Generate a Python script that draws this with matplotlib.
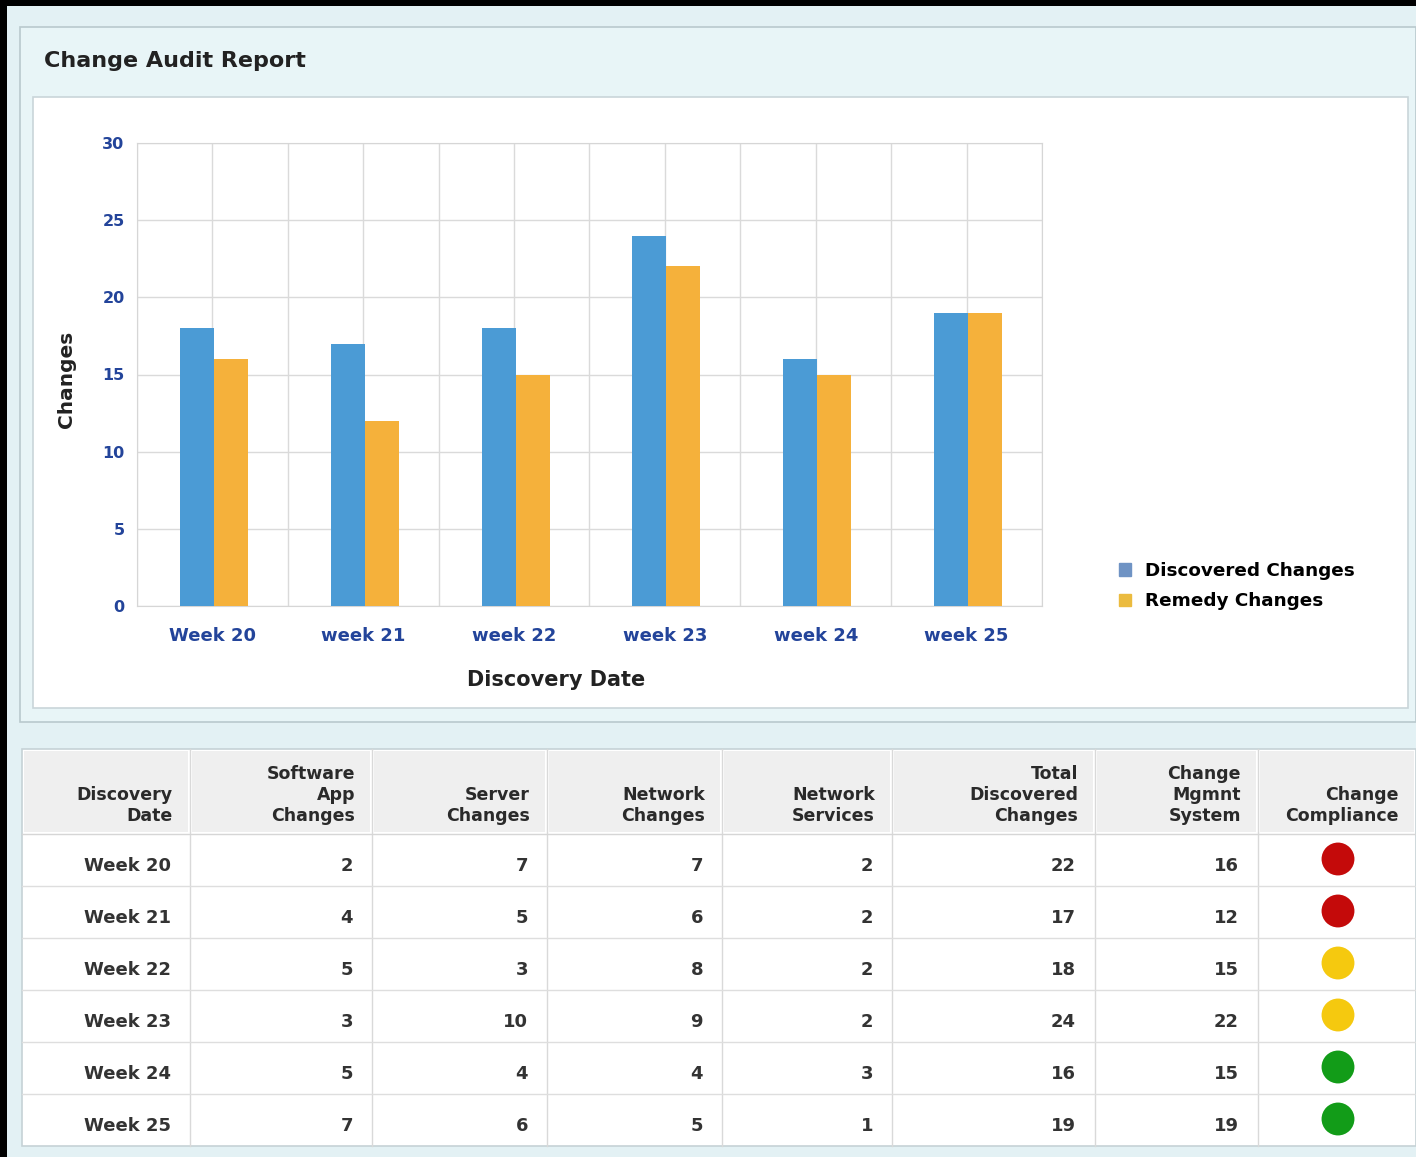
import numpy as np
import matplotlib.pyplot as plt
from matplotlib.patches import Rectangle, Patch

# chart data
week_ticks = ['Week 20', 'week 21', 'week 22', 'week 23', 'week 24', 'week 25']
discovered = [18, 17, 18, 24, 16, 19]
remedy = [16, 12, 15, 22, 15, 19]

# table data
weeks = ['Week 20', 'Week 21', 'Week 22', 'Week 23', 'Week 24', 'Week 25']
software_app = [2, 4, 5, 3, 5, 7]
server = [7, 5, 3, 10, 4, 6]
network_changes = [7, 6, 8, 9, 4, 5]
network_services = [2, 2, 2, 2, 3, 1]
total_discovered = [22, 17, 18, 24, 16, 19]
change_mgmt = [16, 12, 15, 22, 15, 19]
compliance = ['red', 'red', 'yellow', 'yellow', 'green', 'green']
headers = ['Discovery\nDate', 'Software\nApp\nChanges', 'Server\nChanges',
           'Network\nChanges', 'Network\nServices', 'Total\nDiscovered\nChanges',
           'Change\nMgmnt\nSystem', 'Change\nCompliance']

BLUE = '#4b9bd5'
ORANGE = '#f5b13b'
TICK = '#23449a'
light_colors = {'red': '#c40a0a', 'yellow': '#f5c90f', 'green': '#129c18'}

W, H = 1416, 1157
fig = plt.figure(figsize=(W / 100, H / 100), dpi=100, facecolor='black')

# page background in pixel coordinates
bg = fig.add_axes([0, 0, 1, 1])
bg.set_xlim(0, W)
bg.set_ylim(H, 0)
bg.axis('off')
bg.add_patch(Rectangle((7, 6), W - 7, H - 6, fc='#e3f1f4', ec='none'))
bg.add_patch(Rectangle((20, 27), W - 20, 695, fc='#e8f5f7', ec='#b9c9cd', lw=1.2))
bg.add_patch(Rectangle((33, 97), 1375, 611, fc='white', ec='#c9d5d9', lw=1.2))
bg.text(44, 61, 'Change Audit Report', fontsize=16, fontweight='bold',
        color='#222222', va='center', ha='left')

# bar chart
ax = fig.add_axes([137 / W, 1 - 606 / H, 905 / W, 463 / H])
x = np.arange(len(week_ticks))
bw = 0.225
ax.bar(x - bw / 2 + 0.01, discovered, bw, color=BLUE, zorder=3)
ax.bar(x + bw / 2 + 0.01, remedy, bw, color=ORANGE, zorder=3)
ax.set_xlim(-0.5, len(week_ticks) - 0.5)
ax.set_ylim(0, 30)
ax.set_yticks(range(0, 31, 5))
ax.set_xticks(x)
ax.set_xticks(np.arange(-0.5, len(week_ticks), 1.0), minor=True)
ax.set_xticklabels(week_ticks)
ax.tick_params(axis='both', which='both', length=0, labelcolor=TICK)
ax.tick_params(axis='x', pad=15, labelsize=13)
ax.tick_params(axis='y', pad=9, labelsize=11.5)
for lab in ax.get_xticklabels() + ax.get_yticklabels():
    lab.set_fontweight('bold')
ax.grid(True, which='both', axis='x', color='#dadada', lw=1, zorder=0)
ax.grid(True, axis='y', color='#dadada', lw=1, zorder=0)
for s in ax.spines.values():
    s.set_color('#d6d6d6')
ax.set_ylabel('Changes', fontsize=14.5, fontweight='bold', color='#222222')
ax.yaxis.set_label_coords(-61 / 905, 0.49)
ax.set_xlabel('Discovery Date', fontsize=15, fontweight='bold', color='#222222')
ax.xaxis.set_label_coords(0.463, -64 / 463)

fig.legend(handles=[Patch(color='#6f93c4'), Patch(color='#ebbb3f')],
           labels=['Discovered Changes', 'Remedy Changes'],
           loc='center left', bbox_to_anchor=(1102 / W, 1 - 586 / H),
           frameon=False, handlelength=0.7, handleheight=0.7,
           handletextpad=0.75, labelspacing=0.7,
           prop={'weight': 'bold', 'size': 13.2})

# table
cols = [22, 190, 372, 547, 722, 892, 1095, 1258, W]
top, head_bot, bot = 749, 834, 1146
row_h = (bot - head_bot) / len(weeks)
bg.add_patch(Rectangle((22, top), W - 22, bot - top, fc='white', ec='#c6d2d6', lw=1.2))
for i in range(len(cols) - 1):
    bg.add_patch(Rectangle((cols[i] + 2, top + 2), cols[i + 1] - cols[i] - 4,
                           head_bot - top - 4, fc='#efefef', ec='none'))
for c in cols[1:-1]:
    bg.plot([c, c], [top, bot], color='#d9d9d9', lw=1)
bg.plot([22, W], [head_bot, head_bot], color='#d6d6d6', lw=1)
for r in range(1, len(weeks)):
    y = head_bot + r * row_h
    bg.plot([22, W], [y, y], color='#dedede', lw=1)

for i, h in enumerate(headers):
    bg.text(cols[i + 1] - 17, 825, h, ha='right', va='bottom', fontsize=12.5,
            fontweight='bold', color='#2a2a2a', linespacing=1.22)

columns = [weeks, software_app, server, network_changes, network_services,
           total_discovered, change_mgmt]
for r in range(len(weeks)):
    yc = head_bot + (r + 0.5) * row_h + 6
    for i, col in enumerate(columns):
        bg.text(cols[i + 1] - 19, yc, str(col[r]), ha='right', va='center',
                fontsize=13, fontweight='bold', color='#333333')

rows_y = head_bot + (np.arange(len(weeks)) + 0.5) * row_h - 1
bg.scatter([1338] * len(weeks), rows_y, s=560,
           c=[light_colors[c] for c in compliance], zorder=5, edgecolors='none')

fig.savefig('out.png', dpi=100, facecolor=fig.get_facecolor())
